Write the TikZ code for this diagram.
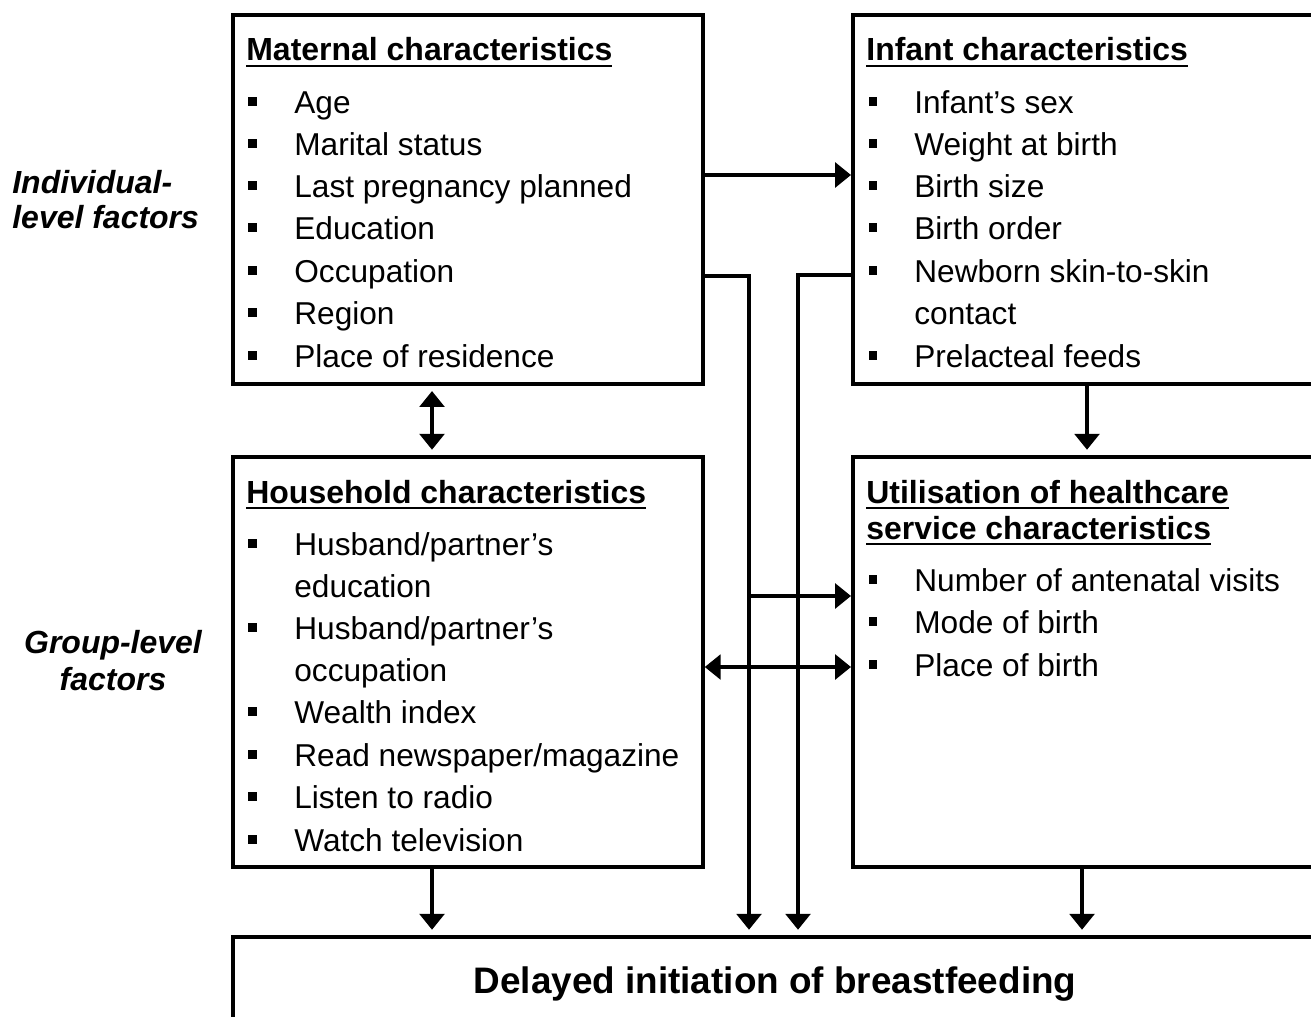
\documentclass[tikz,border=0pt]{standalone}
\usepackage{fontspec}
\setmainfont{Liberation Sans}
\usetikzlibrary{arrows.meta}

% square bullet in front of an item, underlined heading
\newcommand{\bul}{\llap{\rule[4pt]{5.1pt}{5.1pt}\hspace{21pt}}}
\newcommand{\hdr}[1]{\setbox0=\hbox{#1}\rlap{\rule[-3.6pt]{\wd0}{1.4pt}}\box0}

\begin{document}
\begin{tikzpicture}[x=0.02cm, y=-0.02cm,
    box/.style={draw, line width=2.2pt, anchor=north west, inner sep=0pt},
    ttl/.style={anchor=base west, inner sep=0pt, font=\bfseries\fontsize{18.2}{22}\selectfont},
    itm/.style={anchor=base west, inner sep=0pt, font=\fontsize{18}{22}\selectfont},
    side/.style={inner sep=0pt, font=\bfseries\itshape\fontsize{18.2}{22}\selectfont},
    arr/.style={line width=2pt, -{Triangle[length=9pt,width=14pt]}},
    dbl/.style={line width=2pt, {Triangle[length=9pt,width=14pt]}-{Triangle[length=9pt,width=14pt]}}]

    \useasboundingbox (0,0) rectangle (1311,1017);
    \clip (0,0) rectangle (1311,1017);

    % the five boxes
    \node[box, minimum width=9.4cm, minimum height=7.38cm] (mat) at (231,13) {};
    \node[box, minimum width=10cm, minimum height=7.38cm] (inf) at (851,13) {};
    \node[box, minimum width=9.4cm, minimum height=8.2cm] (hh) at (231,455) {};
    \node[box, minimum width=10cm, minimum height=8.2cm] (util) at (851,455) {};
    \node[box, minimum width=22.5cm, minimum height=3cm] (out) at (231,935) {};

    % side labels
    \node[side, anchor=base west] (ind1) at (12,193) {Individual-};
    \node[side, anchor=base west] (ind2) at (12,228) {level factors};
    \node[side, anchor=base] (grp1) at (113,653) {Group-level};
    \node[side, anchor=base] (grp2) at (113,690) {factors};

    % maternal characteristics
    \node[ttl] (mat-t) at (246,61) {\hdr{Maternal characteristics}};
    \foreach \y/\t [count=\i] in {113/Age, 155/Marital status, 197/Last pregnancy planned, 239/Education, 282/Occupation, 324/Region, 367/Place of residence} {
            \node[itm] (mat-\i) at (294,\y) {\bul\t};
        }

    % infant characteristics
    \node[ttl] (inf-t) at (866,61) {\hdr{Infant characteristics}};
    \foreach \y/\t [count=\i] in {113/\bul Infant’s sex, 155/\bul Weight at birth, 197/\bul Birth size, 239/\bul Birth order, 282/\bul Newborn skin-to-skin, 324/contact, 367/\bul Prelacteal feeds} {
            \node[itm] (inf-\i) at (914,\y) {\t};
        }

    % household characteristics
    \node[ttl] (hh-t) at (246,503) {\hdr{Household characteristics}};
    \foreach \y/\t [count=\i] in {555/{\bul Husband/partner’s}, 597/education, 639/{\bul Husband/partner’s}, 681/occupation, 723/\bul Wealth index, 766/{\bul Read newspaper/magazine}, 808/\bul Listen to radio, 851/\bul Watch television} {
            \node[itm] (hh-\i) at (294,\y) {\t};
        }

    % utilisation of healthcare
    \node[ttl] (util-t1) at (866,503) {\hdr{Utilisation of healthcare}};
    \node[ttl] (util-t2) at (866,539) {\hdr{service characteristics}};
    \foreach \y/\t [count=\i] in {591/Number of antenatal visits, 633/Mode of birth, 676/Place of birth} {
            \node[itm] (util-\i) at (914,\y) {\bul\t};
        }

    % outcome
    \node[inner sep=0pt, anchor=base, font=\bfseries\fontsize{21}{25}\selectfont] (out-t) at (775,993) {Delayed initiation of breastfeeding};

    % arrows between boxes
    \draw[arr] (mat.east |- 0,175) -- (inf.west |- 0,175);
    \draw[dbl, shorten <=3pt, shorten >=3pt] (mat.south -| 432,0) -- (hh.north -| 432,0);
    \draw[arr, shorten >=3pt] (inf.south -| 1087,0) -- (util.north -| 1087,0);
    \draw[dbl] (hh.east |- 0,667) -- (util.west |- 0,667);

    % long arrows down to the outcome
    \draw[arr, shorten >=3pt] (mat.east |- 0,276) -| (out.north -| 749,0);
    \draw[arr, shorten >=3pt] (inf.west |- 0,275) -| (out.north -| 798,0);
    \coordinate (br) at (749,596);
    \draw[arr] (br) -- (util.west |- br);
    \draw[arr, shorten >=3pt] (hh.south -| 432,0) -- (out.north -| 432,0);
    \draw[arr, shorten >=3pt] (util.south -| 1082,0) -- (out.north -| 1082,0);

\end{tikzpicture}
\end{document}
